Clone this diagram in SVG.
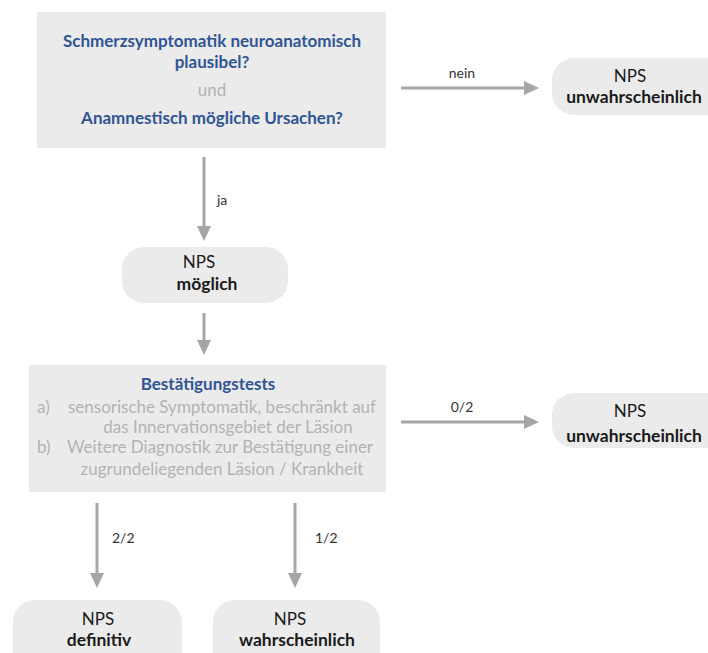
<svg xmlns="http://www.w3.org/2000/svg" width="708" height="653" viewBox="0 0 708 653">
<style>
.box{fill:#ebebeb;}
.t{font-family:Lato,"Open Sans","Liberation Sans",sans-serif;font-size:17px;}
.blue{fill:#2f5597;font-weight:bold;}
.gray{fill:#b3b3b3;}
.blk{fill:#1a1a1a;}
.b{font-weight:bold;}
.big{font-size:17.5px;}
.lbl{font-family:Lato,"Open Sans","Liberation Sans",sans-serif;font-size:14px;fill:#333;}
.ln{stroke:#a6a6a6;stroke-width:3;fill:none;}
.ah{fill:#a6a6a6;}
</style>
<rect width="708" height="653" fill="#ffffff"/>
<g id="q1">
<rect class="box" x="37" y="12" width="349" height="136"/>
<text class="t blue" x="212" y="47" text-anchor="middle">Schmerzsymptomatik neuroanatomisch</text>
<text class="t blue" x="212" y="68" text-anchor="middle">plausibel?</text>
<text class="t gray" x="212" y="96" text-anchor="middle">und</text>
<text class="t blue" x="212" y="124" text-anchor="middle">Anamnestisch mögliche Ursachen?</text>
</g>
<g id="nps1">
<rect class="box" x="552" y="58" width="180" height="57" rx="22"/>
<text class="t blk" x="630" y="82" text-anchor="middle">NPS</text>
<text class="t blk b big" x="634" y="103" text-anchor="middle">unwahrscheinlich</text>
</g>
<g id="nps2">
<rect class="box" x="122" y="247" width="166" height="56" rx="22"/>
<text class="t blk" x="199" y="268" text-anchor="middle">NPS</text>
<text class="t blk b big" x="207" y="290" text-anchor="middle">möglich</text>
</g>
<g id="tests">
<rect class="box" x="29" y="365" width="357" height="127"/>
<text class="t blue" x="208" y="390" text-anchor="middle">Bestätigungstests</text>
<text class="t gray" x="37" y="413">a)</text>
<text class="t gray" x="222" y="413" text-anchor="middle">sensorische Symptomatik, beschränkt auf</text>
<text class="t gray" x="228" y="433" text-anchor="middle">das Innervationsgebiet der Läsion</text>
<text class="t gray" x="37" y="453">b)</text>
<text class="t gray" x="220" y="453" text-anchor="middle">Weitere Diagnostik zur Bestätigung einer</text>
<text class="t gray" x="222" y="475" text-anchor="middle">zugrundeliegenden Läsion / Krankheit</text>
</g>
<g id="nps3">
<rect class="box" x="552" y="393" width="180" height="55" rx="22"/>
<text class="t blk" x="630" y="417" text-anchor="middle">NPS</text>
<text class="t blk b big" x="634" y="442" text-anchor="middle">unwahrscheinlich</text>
</g>
<g id="nps4">
<rect class="box" x="13" y="600" width="169" height="80" rx="22"/>
<text class="t blk" x="98" y="625" text-anchor="middle">NPS</text>
<text class="t blk b big" x="99" y="646" text-anchor="middle">definitiv</text>
</g>
<g id="nps5">
<rect class="box" x="213" y="600" width="167" height="80" rx="22"/>
<text class="t blk" x="290" y="625" text-anchor="middle">NPS</text>
<text class="t blk b big" x="297" y="646" text-anchor="middle">wahrscheinlich</text>
</g>
<g id="connectors">
<line class="ln" x1="401" y1="88" x2="526" y2="88"/>
<polygon class="ah" points="524,81 539,88 524,95"/>
<text class="lbl" x="462" y="78" text-anchor="middle">nein</text>
<line class="ln" x1="204" y1="157" x2="204" y2="228"/>
<polygon class="ah" points="197,226 204,241 211,226"/>
<text class="lbl" x="217" y="205">ja</text>
<line class="ln" x1="204" y1="313" x2="204" y2="342"/>
<polygon class="ah" points="197,340 204,355 211,340"/>
<line class="ln" x1="401" y1="422" x2="526" y2="422"/>
<polygon class="ah" points="524,415 539,422 524,429"/>
<text class="lbl" x="462" y="412" text-anchor="middle">0/2</text>
<line class="ln" x1="97" y1="503" x2="97" y2="575"/>
<polygon class="ah" points="90,573 97,588 104,573"/>
<text class="lbl" x="112" y="543">2/2</text>
<line class="ln" x1="295" y1="503" x2="295" y2="575"/>
<polygon class="ah" points="288,573 295,588 302,573"/>
<text class="lbl" x="315" y="543">1/2</text>
</g>
</svg>
